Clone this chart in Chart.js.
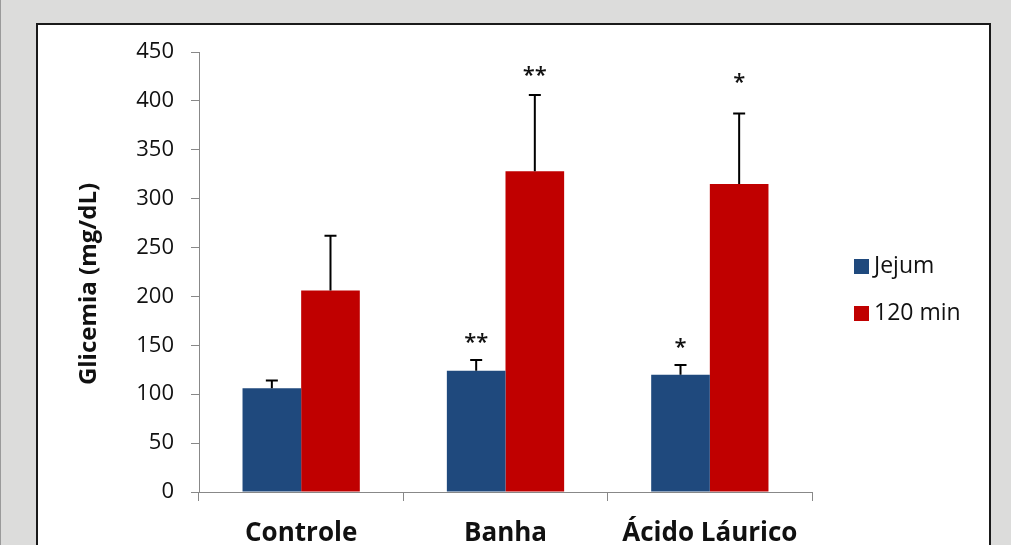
<!DOCTYPE html>
<html><head><meta charset="utf-8">
<script src="https://cdn.jsdelivr.net/npm/chart.js@4"></script>
<style>
html,body{margin:0;padding:0;background:#dcdcdb;}
#wrap{position:absolute;left:0;top:0;width:1011px;height:545px;}
#strip{position:absolute;left:0;top:0;width:1px;height:545px;background:#9a9a9a;}
#box{position:absolute;left:36px;top:23px;width:951px;height:540px;background:#fff;border:2px solid #1a1a1a;}
canvas{position:absolute;left:0;top:0;}
</style></head>
<body>
<div id="wrap"><div id="strip"></div><div id="box"></div><canvas id="c" width="1011" height="545"></canvas></div>
<script>
const categories = ["Controle", "Banha", "Ácido Láurico"];
const seriesNames = ["Jejum", "120 min"];
const jejum = [106, 124, 120];
const min120 = [206, 328, 315];
const jejumErr = [8, 11, 10];
const min120Err = [56, 78, 72];
const jejumSig = ["", "**", "*"];
const min120Sig = ["", "**", "*"];
const jejumSigAt = [null, 157, 152];
const min120SigAt = [null, 430, 423];
const yTicks = [0, 50, 100, 150, 200, 250, 300, 350, 400, 450];
const yTitle = "Glicemia (mg/dL)";

const FONT = "'Open Sans', 'DejaVu Sans', sans-serif";
const colors = ["#1f497d", "#c00000"];

const overlay = {
  id: 'overlay',
  afterDatasetsDraw(chart) {
    const ctx = chart.ctx;
    const y = chart.scales.y;
    const errs = [jejumErr, min120Err];
    const sigs = [jejumSig, min120Sig];
    const sigAt = [jejumSigAt, min120SigAt];
    chart.data.datasets.forEach((ds, di) => {
      const meta = chart.getDatasetMeta(di);
      meta.data.forEach((bar, i) => {
        const v = ds.data[i];
        const top = y.getPixelForValue(v + errs[di][i]);
        const base = y.getPixelForValue(v);
        ctx.save();
        ctx.strokeStyle = '#000';
        ctx.lineWidth = 2;
        ctx.beginPath();
        ctx.moveTo(bar.x, base);
        ctx.lineTo(bar.x, top);
        ctx.moveTo(bar.x - 6, top);
        ctx.lineTo(bar.x + 6, top);
        ctx.stroke();
        const s = sigs[di][i];
        if (s) {
          ctx.fillStyle = '#111';
          ctx.font = "600 22px " + FONT;
          ctx.textAlign = 'center';
          ctx.textBaseline = 'middle';
          ctx.fillText(s, bar.x, y.getPixelForValue(sigAt[di][i]) + 4);
        }
        ctx.restore();
      });
    });
    // y title
    ctx.save();
    ctx.translate(89, 284);
    ctx.rotate(-Math.PI / 2);
    ctx.font = "bold 24px " + FONT;
    ctx.fillStyle = '#111';
    ctx.textAlign = 'center';
    ctx.textBaseline = 'middle';
    ctx.fillText(yTitle, 0, 0);
    ctx.restore();
    // legend
    ctx.save();
    ctx.font = "23px " + FONT;
    ctx.textBaseline = 'middle';
    ctx.textAlign = 'left';
    const ly = [266, 313];
    chart.data.datasets.forEach((ds, di) => {
      ctx.fillStyle = colors[di];
      ctx.fillRect(854, ly[di] - 7, 15, 15);
      ctx.fillStyle = '#111';
      ctx.fillText(ds.label, 874, ly[di]);
    });
    ctx.restore();
  }
};

new Chart(document.getElementById('c'), {
  type: 'bar',
  data: {
    labels: categories,
    datasets: [
      { label: seriesNames[0], data: jejum, backgroundColor: colors[0] },
      { label: seriesNames[1], data: min120, backgroundColor: colors[1] }
    ]
  },
  options: {
    responsive: false,
    animation: false,
    devicePixelRatio: 1,
    layout: { padding: { left: 0, right: 199, top: 52, bottom: 0 } },
    plugins: { legend: { display: false }, tooltip: { enabled: false } },
    datasets: { bar: { categoryPercentage: 0.574, barPercentage: 1.0 } },
    scales: {
      x: {
        afterFit(s) { s.height = 53; },
        grid: { display: true, drawOnChartArea: false, tickLength: 9, color: '#888', tickColor: '#888', offset: true },
        border: { display: true, color: '#888', width: 1 },
        ticks: { color: '#111', font: { family: FONT, size: 26, weight: 'bold' }, padding: 17, maxRotation: 0 }
      },
      y: {
        min: 0, max: 450,
        afterFit(s) { s.width = 199; },
        afterBuildTicks(s) { s.ticks = yTicks.map(v => ({ value: v })); },
        grid: { display: true, drawOnChartArea: false, tickLength: 8, color: '#888', tickColor: '#888' },
        border: { display: true, color: '#888', width: 1 },
        ticks: { color: '#111', font: { family: FONT, size: 22 }, padding: 17 }
      }
    }
  },
  plugins: [overlay]
});
</script>
</body></html>
